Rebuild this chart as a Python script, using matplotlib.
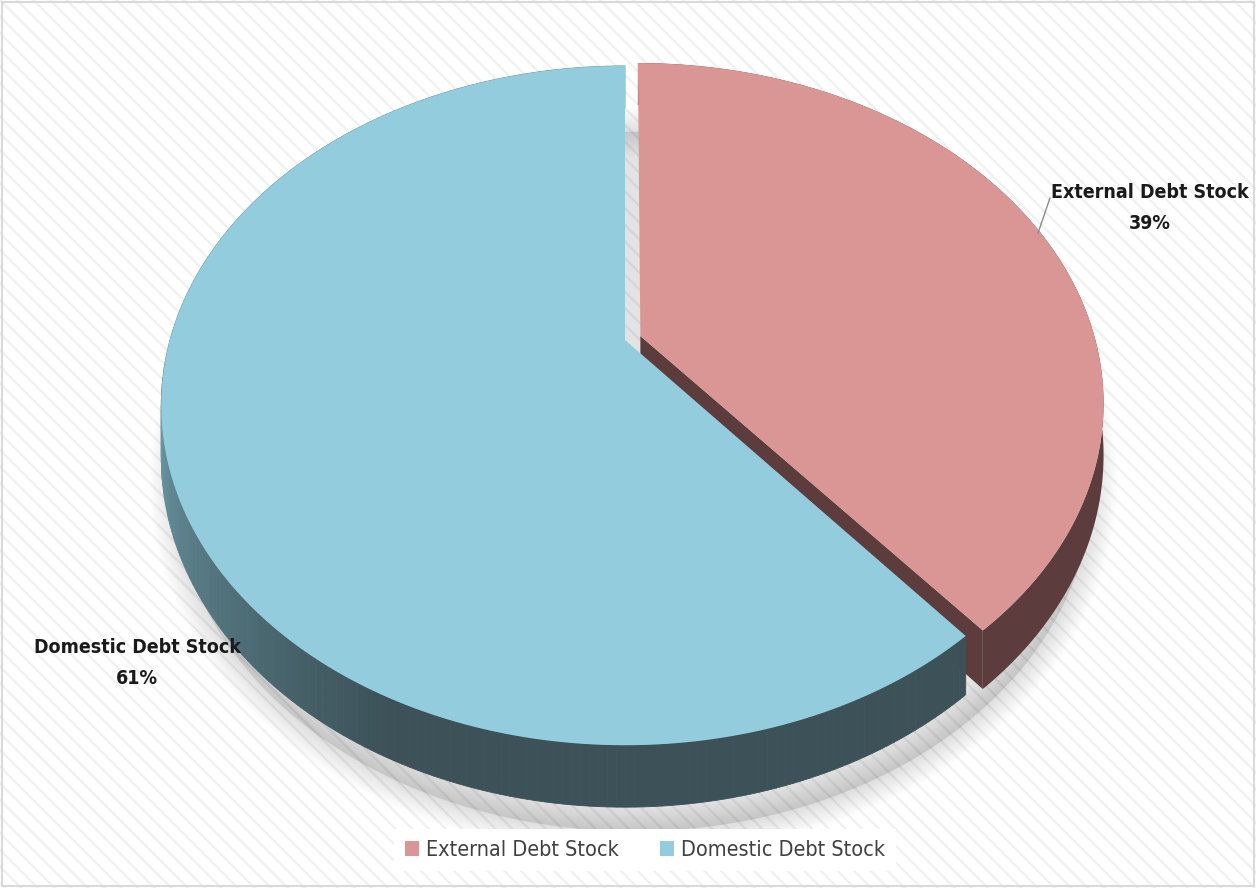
import numpy as np
import matplotlib.pyplot as plt
from matplotlib.patches import Polygon, Rectangle, Patch
from matplotlib.colors import to_rgb

labels = ['External Debt Stock', 'Domestic Debt Stock']
shares = [39, 61]
top_colors = ['#D99694', '#93CDDD']
wall_colors = ['#5C3C3C', '#3C5158']
wall_light = '#6A98A4'
explode = [0.036, 0.0]

W, H = 1256, 888
fig = plt.figure(figsize=(W / 100, H / 100), dpi=100)
ax = fig.add_axes([0, 0, 1, 1])
ax.set_xlim(0, W)
ax.set_ylim(H, 0)
ax.axis('off')

# striped background + thin frame
plt.rcParams['hatch.linewidth'] = 1.6
ax.add_patch(Rectangle((0, 0), W, H, facecolor='white', edgecolor='#f0f0f0',
                       hatch='\\\\', lw=0, zorder=0))
ax.add_patch(Rectangle((2, 2), W - 4, H - 4, facecolor='none', edgecolor='#d9d9d9',
                       lw=1.5, zorder=1))

# perspective projection of a flat disc
cx, cy = 625, 340
A, B, c = 455, 327, 0.193
T = 50  # thickness


def proj(u, v, h=0.0):
    d = 1 - c * v
    return np.column_stack([cx + A * u / d, cy + (B * v + h) / d])


def rim(p0, p1, off, h=0.0, n=200):
    phi = np.linspace(p0, p1, n)
    return proj(np.sin(phi) + off[0], -np.cos(phi) + off[1], h)


# slice angles (clockwise from 12 o'clock)
fr = np.array(shares) / sum(shares)
edges = np.concatenate([[0], np.cumsum(fr)]) * 2 * np.pi
offs = []
for i in range(len(shares)):
    mid = (edges[i] + edges[i + 1]) / 2
    offs.append((explode[i] * np.sin(mid), -explode[i] * np.cos(mid)))

# soft shadow under the pie
full = rim(0, 2 * np.pi, (0.01, 0.0), T, 400) * [0.99, 1] + [10, 24]
for lw in np.linspace(36, 2, 16):
    ax.add_patch(Polygon(full, closed=True, facecolor='none', edgecolor='black',
                         lw=lw, alpha=0.009, joinstyle='round', zorder=2))
ax.add_patch(Polygon(full, closed=True, facecolor='black', alpha=0.11,
                     edgecolor='none', zorder=2))

# external slice walls (outer rim + radial cut facing the gap)
i = 0
p0, p1 = edges[i], edges[i + 1]
ax.add_patch(Polygon(np.vstack([rim(p0, p1, offs[i]), rim(p0, p1, offs[i], T)[::-1]]),
                     closed=True, facecolor=wall_colors[i], edgecolor='none', zorder=3))
apex = proj(np.array([offs[i][0]]), np.array([offs[i][1]]))
apex_b = proj(np.array([offs[i][0]]), np.array([offs[i][1]]), T)
edge_t = rim(p1, p1, offs[i], 0, 1)
edge_b = rim(p1, p1, offs[i], T, 1)
ax.add_patch(Polygon(np.vstack([apex, edge_t, edge_b, apex_b]), closed=True,
                     facecolor=wall_colors[i], edgecolor='none', zorder=3))

# domestic slice outer wall with gradient
i = 1
p0, p1 = edges[i], edges[i + 1]
phis = np.linspace(p0, p1, 240)
dark, light = np.array(to_rgb(wall_colors[i])), np.array(to_rgb(wall_light))
for a, b in zip(phis[:-1], phis[1:]):
    t = np.clip((np.degrees(a) - 205) / 55, 0, 1)
    quad = np.vstack([rim(a, b, offs[i], 0, 2), rim(a, b, offs[i], T, 2)[::-1]])
    col = dark + t * (light - dark)
    ax.add_patch(Polygon(quad, closed=True, facecolor=col, edgecolor=col, lw=0.6, zorder=4))

# top faces
for i in [1, 0]:
    p0, p1 = edges[i], edges[i + 1]
    apex = proj(np.array([offs[i][0]]), np.array([offs[i][1]]))
    ax.add_patch(Polygon(np.vstack([apex, rim(p0, p1, offs[i])]), closed=True,
                         facecolor=top_colors[i], edgecolor='none', zorder=5))

# data labels
lab_font = dict(family='DejaVu Sans', fontstretch='condensed', fontweight='bold',
                fontsize=14, color='#1a1a1a', ha='center', zorder=6, linespacing=1.75)
ax.text(1150, 208, f'{labels[0]}\n{shares[0]}%', va='center', **lab_font)
ax.plot([1050, 1038], [198, 233], color='#8c8c8c', lw=1, zorder=6)
ax.text(137, 663, f'{labels[1]}\n{shares[1]}%', va='center', **lab_font)

# legend
handles = [Patch(facecolor=top_colors[k], edgecolor='none') for k in range(2)]
leg = ax.legend(handles, labels, ncol=2, loc='center', bbox_to_anchor=(645 / W, 1 - 850 / H),
                frameon=True, fancybox=False, facecolor='white', edgecolor='none',
                handlelength=0.65, handleheight=0.75, handletextpad=0.35, columnspacing=1.9,
                borderpad=0.5, prop=dict(family='DejaVu Sans', stretch='condensed', size=15.5))
leg.get_frame().set_alpha(1)
for t in leg.get_texts():
    t.set_color('#404040')

fig.savefig('out.png', dpi=100)
